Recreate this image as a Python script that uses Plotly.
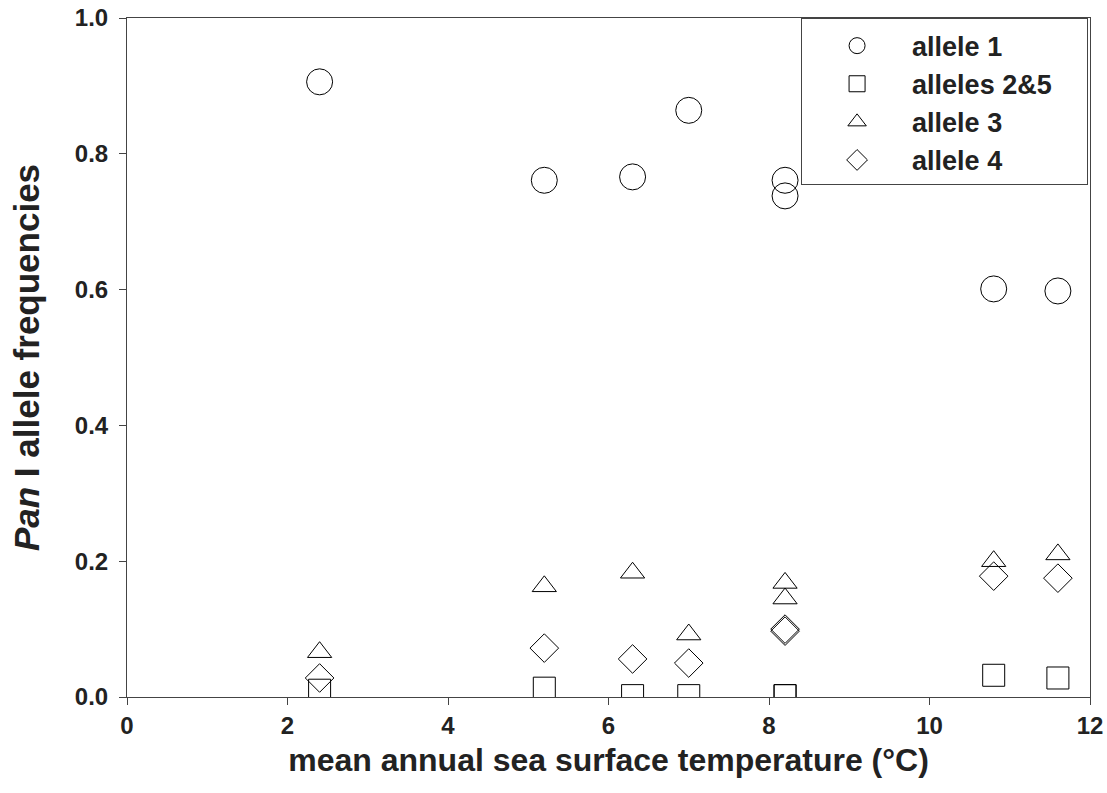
import plotly.graph_objects as go

temps = [2.4, 5.2, 6.3, 7.0, 8.2, 8.2, 10.8, 11.6]
allele1 = [0.906, 0.761, 0.766, 0.864, 0.761, 0.738, 0.601, 0.598]
alleles25 = [0.010, 0.013, 0.002, 0.002, 0.002, 0.002, 0.032, 0.028]
allele3 = [0.066, 0.163, 0.183, 0.092, 0.168, 0.145, 0.200, 0.210]
allele4 = [0.028, 0.072, 0.056, 0.050, 0.100, 0.097, 0.178, 0.175]

series = [
    ("allele 1", allele1, "circle-open", 26),
    ("alleles 2&5", alleles25, "square-open", 22),
    ("allele 3", allele3, "triangle-up-open", 21),
    ("allele 4", allele4, "diamond-open", 22),
]

fig = go.Figure()
for name, vals, sym, sz in series:
    fig.add_trace(go.Scatter(
        x=temps, y=vals, mode="markers", name=name + "\u00a0" * 4,
        marker=dict(symbol=sym, size=sz, color="black", line=dict(width=1, color="black")),
    ))

font_main = "Liberation Sans, Arial, sans-serif"
txt = "#222222"
fig.update_layout(
    width=1107, height=793,
    paper_bgcolor="white", plot_bgcolor="white",
    margin=dict(l=127, r=17, t=18, b=96),
    font=dict(family=font_main, color=txt),
    showlegend=True,
    legend=dict(
        x=0.998, y=1.0, xanchor="right", yanchor="top",
        bgcolor="white", bordercolor="#444444", borderwidth=1,
        font=dict(size=27, family=font_main, color=txt, weight="bold"),
        itemwidth=100,
        title=dict(text="\u00a0", font=dict(size=2)),
    ),
    xaxis=dict(
        range=[0, 12], tickvals=[0, 2, 4, 6, 8, 10, 12],
        showgrid=False, zeroline=False, automargin=False,
        showline=True, linecolor="#444444", linewidth=1, mirror=True,
        ticks="outside", ticklen=7, tickcolor="#444444",
        ticklabeloverflow="allow",
        tickfont=dict(size=24, family=font_main, weight="bold", color=txt),
        title=dict(text="mean annual sea surface temperature (°C)",
                   font=dict(size=32, family=font_main, weight="bold", color=txt),
                   standoff=10),
    ),
    yaxis=dict(
        range=[0, 1.0], tickvals=[0, 0.2, 0.4, 0.6, 0.8, 1.0], tickformat=".1f",
        showgrid=False, zeroline=False, automargin=False,
        showline=True, linecolor="#444444", linewidth=1, mirror=True,
        ticks="outside", ticklen=7, tickcolor="#444444", ticklabelstandoff=6,
        ticklabeloverflow="allow",
        tickfont=dict(size=24, family=font_main, weight="bold", color=txt),
        title=dict(text="<i>Pan</i> I allele frequencies",
                   font=dict(size=35, family=font_main, weight="bold", color=txt),
                   standoff=24),
    ),
)

fig.write_html(
    "out.html",
    config={"displayModeBar": False},
    post_script="document.body.style.margin='0';"
                "document.body.style.overflow='hidden';"
                "document.documentElement.style.overflow='hidden';",
)
